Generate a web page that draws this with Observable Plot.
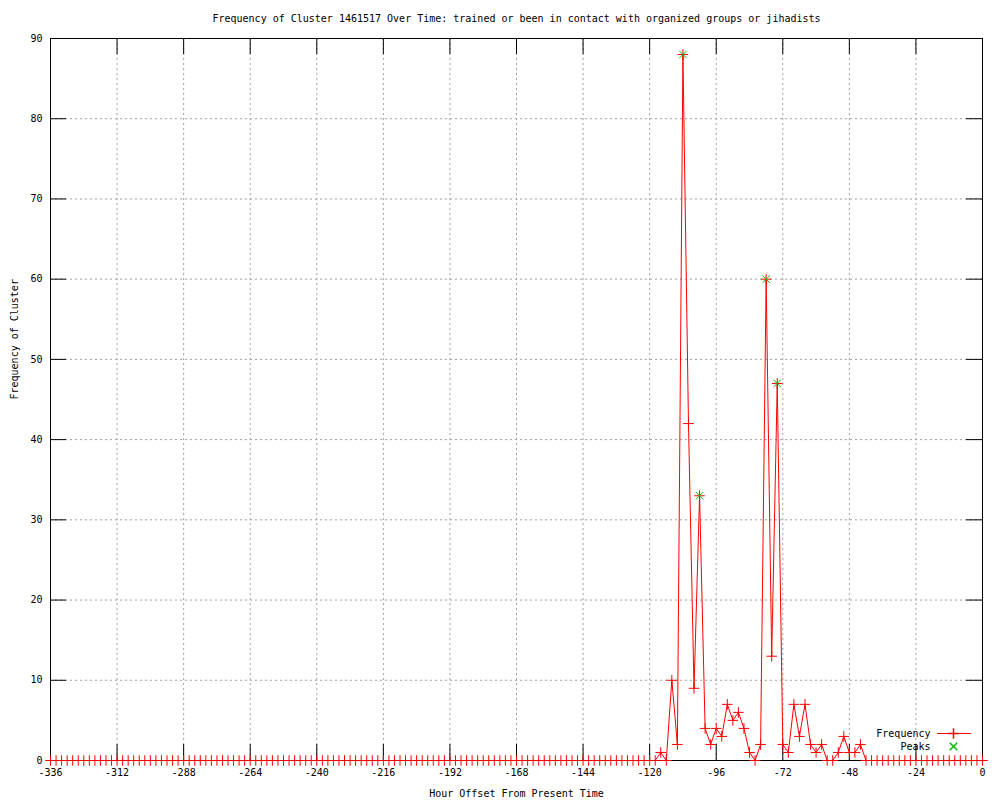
<!DOCTYPE html>
<html>
<head>
<meta charset="utf-8">
<script src="https://cdn.jsdelivr.net/npm/d3@7"></script>
<script src="https://cdn.jsdelivr.net/npm/@observablehq/plot@0.6"></script>
<style>
  body { margin: 0; background: #ffffff; }
  #chart svg { display: block; }
</style>
</head>
<body>
<div id="chart"></div>
<script>
// ---------- data ----------
const titleText = "Frequency of Cluster 1461517 Over Time: trained or been in contact with organized groups or jihadists";
const xLabel = "Hour Offset From Present Time";
const yLabel = "Frequency of Cluster";
const legendLabels = ["Frequency", "Peaks"];

// sampled every 2 hours from -336 to 0
const hours = d3.range(-336, 1, 2);
const frequency = [
  0,0,0,0,0,0,0,0,0,0,  0,0,0,0,0,0,0,0,0,0,   // -336 .. -298
  0,0,0,0,0,0,0,0,0,0,  0,0,0,0,0,0,0,0,0,0,   // -296 .. -258
  0,0,0,0,0,0,0,0,0,0,  0,0,0,0,0,0,0,0,0,0,   // -256 .. -218
  0,0,0,0,0,0,0,0,0,0,  0,0,0,0,0,0,0,0,0,0,   // -216 .. -178
  0,0,0,0,0,0,0,0,0,0,  0,0,0,0,0,0,0,0,0,0,   // -176 .. -138
  0,0,0,0,0,0,0,0,0,                           // -136 .. -120
  0,1,0,10,2,88,42,9,33,4,                     // -118 .. -100
  2,4,3,7,5,6,4,1,0,2,                         // -98 .. -80
  60,13,47,2,1,7,3,7,2,1,                      // -78 .. -60
  2,0,0,1,3,1,1,2,0,                           // -58 .. -42
  0,0,0,0,0,0,0,0,0,0,  0,0,0,0,0,0,0,0,0,0,0  // -40 .. 0
];
const peakHours = [-108, -102, -78, -74];
const peakValues = [88, 33, 60, 47];

const xTicks = [-336, -312, -288, -264, -240, -216, -192, -168, -144, -120, -96, -72, -48, -24, 0];
const yTicks = [0, 10, 20, 30, 40, 50, 60, 70, 80, 90];

// ---------- build ----------
const series = hours.map((h, i) => ({h, f: frequency[i]}));
const peaks = peakHours.map((h, i) => ({h, f: peakValues[i]}));

const red = "#ff0000", green = "#00c000", gridColor = "#a0a0a0";
const W = 1000, H = 800, mL = 50, mR = 18, mT = 38, mB = 40;
const tickLen = 16;
const innerW = W - mL - mR, innerH = H - mT - mB;

const chart = Plot.plot({
  width: W,
  height: H,
  marginLeft: mL,
  marginRight: mR,
  marginTop: mT,
  marginBottom: mB,
  style: {
    fontFamily: "'DejaVu Sans Mono', monospace",
    fontSize: "10px",
    background: "#ffffff",
    color: "#000000",
    overflow: "visible"
  },
  x: {domain: [xTicks[0], xTicks[xTicks.length - 1]], label: null},
  y: {domain: [yTicks[0], yTicks[yTicks.length - 1]], label: null},
  marks: [
    Plot.gridX(xTicks, {stroke: gridColor, strokeOpacity: 1, strokeDasharray: "2,3"}),
    Plot.gridY(yTicks, {stroke: gridColor, strokeOpacity: 1, strokeDasharray: "2,3"}),
    Plot.tickX(xTicks, {x: d => d, insetTop: innerH - tickLen, stroke: "#000"}),
    Plot.tickX(xTicks, {x: d => d, insetBottom: innerH - tickLen, stroke: "#000"}),
    Plot.tickY(yTicks, {y: d => d, insetRight: innerW - tickLen, stroke: "#000"}),
    Plot.tickY(yTicks, {y: d => d, insetLeft: innerW - tickLen, stroke: "#000"}),
    Plot.axisX(xTicks, {tickSize: 0, tickPadding: 8, tickFormat: d => String(d), label: null}),
    Plot.axisY(yTicks, {tickSize: 0, tickPadding: 8, tickFormat: d => String(d), label: null}),
    Plot.line(series, {x: "h", y: "f", stroke: red, strokeWidth: 1}),
    Plot.frame({stroke: "#000"}),
    Plot.dot(series, {x: "h", y: "f", symbol: "plus", r: 3.5, stroke: red, strokeWidth: 1}),
    Plot.dot(peaks, {x: "h", y: "f", symbol: "times", r: 3.5, stroke: green, strokeWidth: 1}),
    // title and axis labels
    Plot.text([titleText], {text: d => d, frameAnchor: "top", lineAnchor: "middle", dy: -20}),
    Plot.text([xLabel], {text: d => d, frameAnchor: "bottom", lineAnchor: "middle", dy: 33}),
    Plot.text([yLabel], {text: d => d, frameAnchor: "left", lineAnchor: "middle", dx: -36, rotate: -90}),
    // legend
    Plot.text([legendLabels[0]], {text: d => d, frameAnchor: "bottom-right", lineAnchor: "middle", dx: -52, dy: -27, textAnchor: "end"}),
    Plot.text([legendLabels[1]], {text: d => d, frameAnchor: "bottom-right", lineAnchor: "middle", dx: -52, dy: -14, textAnchor: "end"}),
    Plot.vector([legendLabels[0]], {frameAnchor: "bottom-right", dx: -28.5, dy: -27, rotate: 90, length: 33, anchor: "middle", r: 0, stroke: red, strokeWidth: 1}),
    Plot.dot([legendLabels[0]], {frameAnchor: "bottom-right", dx: -29, dy: -27, symbol: "plus", r: 3.5, stroke: red}),
    Plot.dot([legendLabels[1]], {frameAnchor: "bottom-right", dx: -29, dy: -14, symbol: "times", r: 3.5, stroke: green})
  ]
});
document.getElementById("chart").appendChild(chart);
</script>
</body>
</html>
